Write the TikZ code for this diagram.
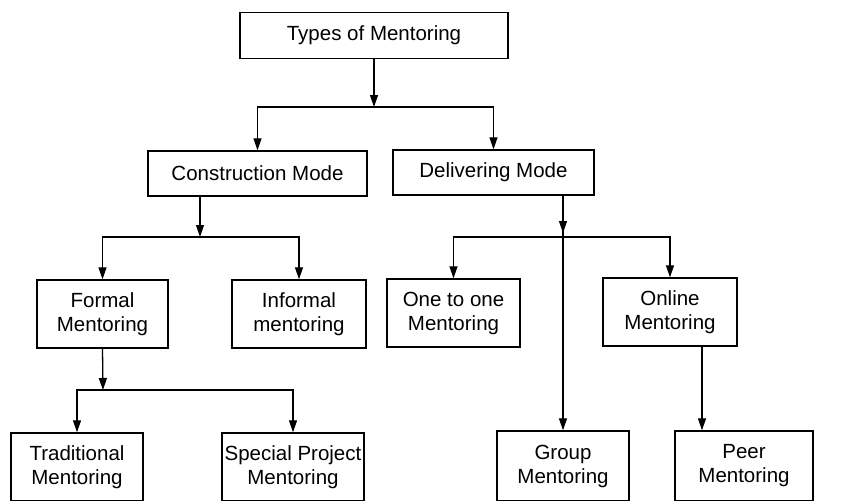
\documentclass[tikz,border=0pt]{standalone}
\usepackage{fontspec}
\setmainfont{Liberation Sans}
\usetikzlibrary{arrows.meta}
\begin{document}
\begin{tikzpicture}[x=1pt,y=-1pt,
mode-box/.style = {draw, line width=1.4pt, inner sep=0pt, align=center,
    font={\fontsize{20.5}{24}\selectfont}},
link-line/.style = {line width=1.3pt, -{Triangle[length=12pt,width=8pt]}},
plain-line/.style = {line width=1.3pt}
]
\useasboundingbox (0,0) rectangle (847,501);
% top level
\node[mode-box, minimum width=268pt, minimum height=46pt] (types) at (374,35.5) {Types of Mentoring};
\node[mode-box, minimum width=219pt, minimum height=45pt] (constr) at (257.5,173.5) {Construction Mode};
\node[mode-box, minimum width=201pt, minimum height=45pt] (deliv) at (493.5,172.5) {Delivering Mode};
% second level
\node[mode-box, minimum width=131pt, minimum height=68pt] (formal) at (102.5,314) {Formal\\Mentoring};
\node[mode-box, minimum width=134pt, minimum height=68pt] (informal) at (299,314) {Informal\\mentoring};
\node[mode-box, minimum width=133pt, minimum height=68pt] (one) at (453.5,313) {One to one\\Mentoring};
\node[mode-box, minimum width=134pt, minimum height=68pt] (online) at (670,312) {Online\\Mentoring};
% bottom level
\node[mode-box, minimum width=132pt, minimum height=68pt] (trad) at (77,467) {Traditional\\Mentoring};
\node[mode-box, minimum width=142pt, minimum height=68pt] (special) at (293,467) {Special Project\\Mentoring};
\node[mode-box, minimum width=132pt, minimum height=70pt] (group) at (563,466) {Group\\Mentoring};
\node[mode-box, minimum width=138pt, minimum height=70pt] (peer) at (744,466) {Peer\\Mentoring};
% junctions
\coordinate (j-types) at (374,107);
\coordinate (j-constr) at (200,237);
\coordinate (j-deliv) at (563,237);
\coordinate (j-formal) at (103,390);
\coordinate (s-online) at (702,0);
% connectors
\draw[link-line] (types.south) -- (j-types);
\draw[link-line] (j-types) -| (constr.north);
\draw[link-line] (j-types) -| (deliv.north);
\draw[link-line] (j-constr |- constr.south) -- (j-constr);
\draw[link-line] (j-constr) -| (formal.north);
\draw[link-line] (j-constr) -| (informal.north);
\draw[link-line] (j-deliv |- deliv.south) -- ([yshift=4pt]j-deliv);
\draw[plain-line] (j-deliv |- deliv.south) -- (j-deliv);
\draw[link-line] (j-deliv) -| (one.north);
\draw[link-line] (j-deliv) -| (online.north);
\draw[link-line] (j-deliv) -- (group.north);
\draw[link-line] (s-online |- online.south) -- (s-online |- peer.north);
\draw[link-line] (formal.south) -- (j-formal);
\draw[link-line] (j-formal) -| (trad.north);
\draw[link-line] (j-formal) -| (special.north);
\end{tikzpicture}
\end{document}
